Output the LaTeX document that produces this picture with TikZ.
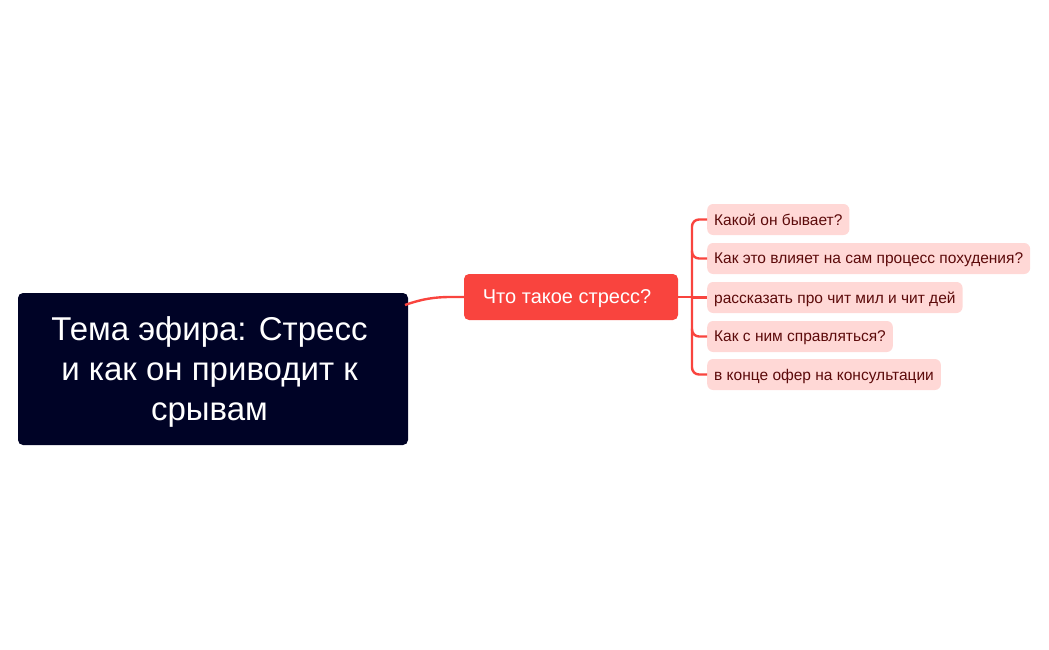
\documentclass[tikz,border=0pt]{standalone}
\usepackage{fontspec}
\setmainfont{Liberation Sans}
\definecolor{rootbg}{HTML}{000326}
\definecolor{redn}{HTML}{F9443E}
\definecolor{leafbg}{HTML}{FFD8D6}
\definecolor{leaftx}{HTML}{5C0A0A}
\begin{document}
\begin{tikzpicture}[x=1pt,y=-1pt,
  rootbox/.style={fill=rootbg,rounded corners=5pt,inner sep=0pt},
  roottx/.style={text=white,font=\fontsize{33}{40}\selectfont,align=center,inner sep=0pt},
  mainbox/.style={fill=redn,rounded corners=5pt,text=white,font=\fontsize{20}{24}\selectfont,inner sep=0pt,text height=12pt,text depth=0pt},
  leafbox/.style={fill=leafbg,rounded corners=6pt,text=leaftx,font=\fontsize{15.5}{18}\selectfont,inner sep=0pt,anchor=west,minimum height=31pt,text depth=0pt},
  link/.style={draw=redn,line width=2.4pt}]
\useasboundingbox (0,0) rectangle (1049,650);
\node[rootbox,minimum width=390pt,minimum height=152pt] (root) at (213,369) {};
\node[roottx] (roottext) at (209.5,371.5) {Тема эфира: Стресс\\и как он приводит к\\срывам};
\node[mainbox,minimum width=214pt,minimum height=46pt] (main) at (571,297) {\hspace*{-8pt}Что такое стресс?};
\node[leafbox,inner xsep=7pt] (l1) at (707,219.5) {Какой он бывает?};
\node[leafbox,inner xsep=7pt] (l2) at (707,258.5) {Как это влияет на сам процесс похудения?};
\node[leafbox,inner xsep=7pt] (l3) at (707,297.5) {рассказать про чит мил и чит дей};
\node[leafbox,inner xsep=7pt] (l4) at (707,336.5) {Как с ним справляться?};
\node[leafbox,inner xsep=7pt] (l5) at (707,374.5) {в конце офер на консультации};
\coordinate (rootc) at (405,305);
\draw[link] (rootc) .. controls (430,296) and (445,297) .. (main.west);
\coordinate (trunk) at (692,297);
\draw[link] (main.east) -- (trunk);
\draw[link,rounded corners=7pt] (l1.west) -- (l1.west -| trunk) -- (l5.west -| trunk) -- (l5.west);
\draw[link,rounded corners=7pt] (trunk |- l2.west) ++(0,-8) -- ++(0,8) -- (l2.west);
\draw[link] (trunk |- l3.west) -- (l3.west);
\draw[link,rounded corners=7pt] (trunk |- l4.west) ++(0,-8) -- ++(0,8) -- (l4.west);
\end{tikzpicture}
\end{document}
